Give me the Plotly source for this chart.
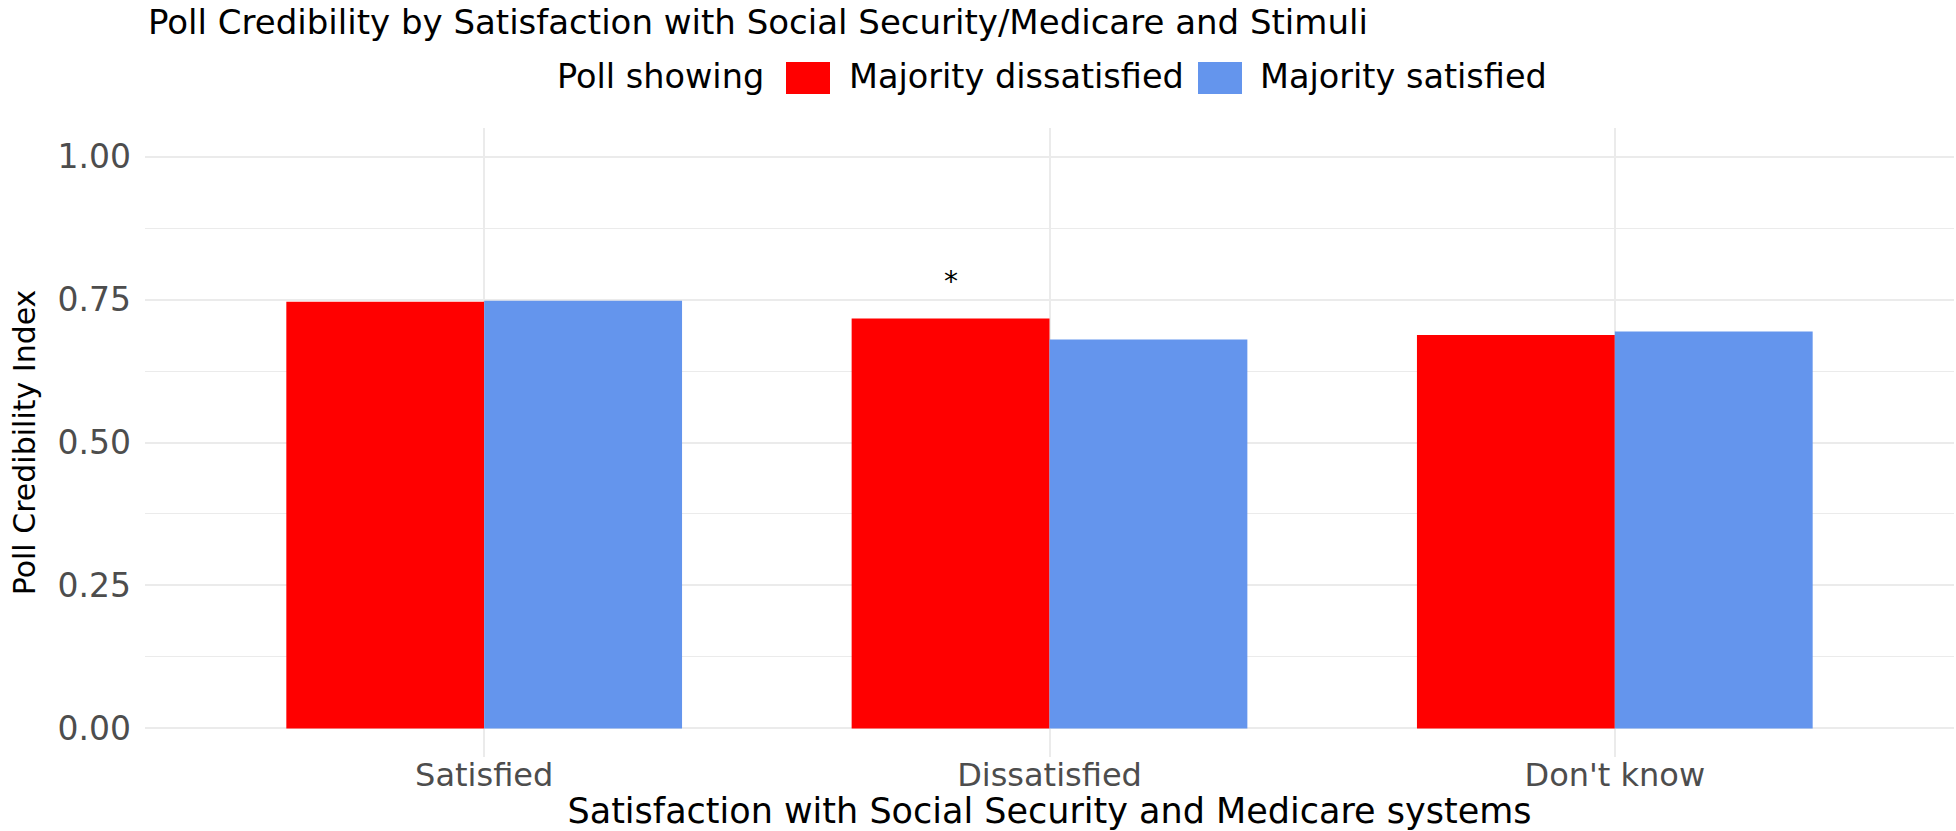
import plotly.graph_objects as go

# ---- data ----
categories = ["Satisfied", "Dissatisfied", "Don't know"]
series_names = ["Majority dissatisfied", "Majority satisfied"]
dissatisfied_vals = [0.746, 0.717, 0.688]
satisfied_vals = [0.748, 0.680, 0.694]
signif_marks = ["", "*", ""]          # marks above the "Majority dissatisfied" bars
y_tickvals = [0.0, 0.25, 0.5, 0.75, 1.0]
y_ticktext = ["0.00", "0.25", "0.50", "0.75", "1.00"]
legend_title = "Poll showing"
title_text = "Poll Credibility by Satisfaction with Social Security/Medicare and Stimuli"
x_title = "Satisfaction with Social Security and Medicare systems"
y_title = "Poll Credibility Index"

colors = ["#FF0000", "#6495ED"]
FONT = "DejaVu Sans"

W, H = 1956, 831
ML, MR, MT, MB = 145, 2, 128, 74
PW, PH = W - ML - MR, H - MT - MB


def px_x(p):
    return (p - ML) / PW


def px_y(p):
    return (H - MB - p) / PH


fig = go.Figure()
for name, vals, col in zip(series_names, [dissatisfied_vals, satisfied_vals], colors):
    fig.add_trace(go.Bar(x=categories, y=vals, name=name, marker_color=col,
                         marker_line_width=0, showlegend=False))

annotations = []
# significance marks, positioned on the dodged red bar
for i, (m, v) in enumerate(zip(signif_marks, dissatisfied_vals)):
    if m:
        annotations.append(dict(x=i - 0.175, y=v + 0.064, xref="x", yref="y", text=m,
                                showarrow=False, font=dict(family=FONT, size=28, color="black"),
                                xanchor="center", yanchor="middle"))

# manual legend (large square keys like the reference)
leg_y = 77
LEG_FS = 33.5
annotations.append(dict(x=px_x(555), y=px_y(leg_y), xref="paper", yref="paper", text=legend_title,
                        showarrow=False, xanchor="left", yanchor="middle",
                        font=dict(family=FONT, size=LEG_FS, color="black")))
key_lefts = [786, 1198]
text_lefts = [847, 1258]
shapes = []
for name, col, kl, tl in zip(series_names, colors, key_lefts, text_lefts):
    shapes.append(dict(type="rect", xref="paper", yref="paper",
                       x0=px_x(kl), x1=px_x(kl + 44), y0=px_y(94), y1=px_y(62),
                       fillcolor=col, line=dict(width=0)))
    annotations.append(dict(x=px_x(tl), y=px_y(leg_y), xref="paper", yref="paper", text=name,
                            showarrow=False, xanchor="left", yanchor="middle",
                            font=dict(family=FONT, size=LEG_FS, color="black")))

fig.update_layout(
    width=W, height=H,
    margin=dict(l=ML, r=MR, t=MT, b=MB, pad=0),
    paper_bgcolor="white", plot_bgcolor="white",
    barmode="group", bargap=0.3, bargroupgap=0,
    title=dict(text=title_text, x=148 / W, xanchor="left", xref="container",
               y=1 - 22 / H, yanchor="middle", yref="container",
               font=dict(family=FONT, size=34, color="black")),
    xaxis=dict(range=[-0.6, 2.6], showgrid=True, gridcolor="#EBEBEB", gridwidth=2,
               zeroline=False, showline=False, ticks="", ticklabelstandoff=-4,
               tickfont=dict(family=FONT, size=32, color="#4D4D4D"),
               title=dict(text=x_title, font=dict(family=FONT, size=35, color="black"), standoff=0)),
    yaxis=dict(range=[-0.05, 1.05], tickmode="array", tickvals=y_tickvals, ticktext=y_ticktext,
               showgrid=True, gridcolor="#EBEBEB", gridwidth=2, zeroline=False, showline=False,
               ticks="", ticklabelstandoff=13, tickfont=dict(family=FONT, size=33, color="#4D4D4D"),
               minor=dict(tickvals=[0.125, 0.375, 0.625, 0.875], showgrid=True,
                          gridcolor="#EBEBEB", gridwidth=1),
               title=dict(text=y_title, font=dict(family=FONT, size=30, color="black"), standoff=13)),
    annotations=annotations,
    shapes=shapes,
)

fig.write_html("out.html", config={"displayModeBar": False},
               post_script="document.body.style.margin='0px';")
